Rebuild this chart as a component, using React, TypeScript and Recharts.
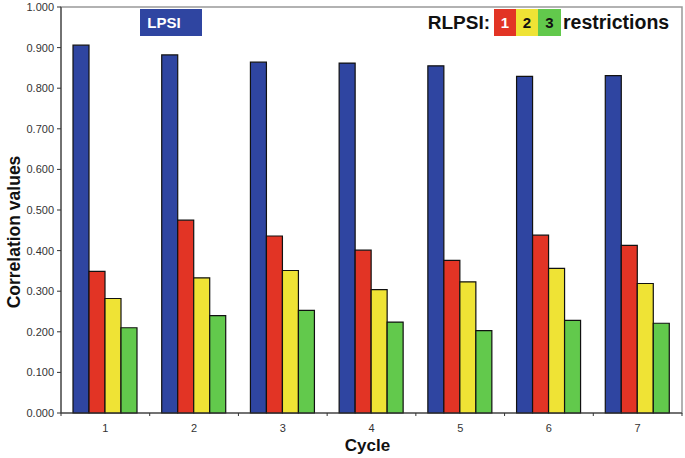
import { Bar, BarChart, ReferenceArea, XAxis, YAxis } from 'recharts';

const cycles = ['1', '2', '3', '4', '5', '6', '7'];
const lpsi = [0.906, 0.882, 0.864, 0.862, 0.855, 0.829, 0.831];
const rlpsi1 = [0.349, 0.475, 0.436, 0.401, 0.376, 0.438, 0.413];
const rlpsi2 = [0.282, 0.333, 0.351, 0.304, 0.323, 0.356, 0.319];
const rlpsi3 = [0.21, 0.24, 0.253, 0.224, 0.203, 0.228, 0.221];
const yTicks = [0, 0.1, 0.2, 0.3, 0.4, 0.5, 0.6, 0.7, 0.8, 0.9, 1];

const BLUE = '#2f45a1';
const RED = '#e23425';
const YELLOW = '#efe335';
const GREEN = '#62c94c';
const FONT = '"Liberation Sans", Arial, sans-serif';

const data = cycles.map((cycle, i) => ({
  cycle,
  lpsi: lpsi[i],
  r1: rlpsi1[i],
  r2: rlpsi2[i],
  r3: rlpsi3[i],
}));

const CycleTick = (props: any) => {
  const { x, y, payload, index, visibleTicksCount } = props;
  const half = payload.offset || 0;
  return (
    <g>
      <line x1={x - half} x2={x - half} y1={y} y2={y + 3} stroke="#333" />
      {index === visibleTicksCount - 1 && (
        <line x1={x + half} x2={x + half} y1={y} y2={y + 3} stroke="#333" />
      )}
      <text x={x} y={y + 19} textAnchor="middle" fontSize={11} fill="#333" fontFamily={FONT}>
        {payload.value}
      </text>
    </g>
  );
};

const YTitle = (props: any) => {
  const { x, y, height } = props.viewBox;
  const cx = x + 20;
  const cy = y + height / 2 + 22;
  return (
    <text
      x={cx}
      y={cy}
      transform={`rotate(-90, ${cx}, ${cy})`}
      textAnchor="middle"
      fontSize={17.5}
      fontWeight="bold"
      fill="#111"
      fontFamily={FONT}
    >
      Correlation values
    </text>
  );
};

const XTitle = (props: any) => {
  const { x, y, width } = props.viewBox;
  return (
    <text
      x={x + width / 2 - 4}
      y={y + 38}
      textAnchor="middle"
      fontSize={17}
      fontWeight="bold"
      fill="#111"
      fontFamily={FONT}
    >
      Cycle
    </text>
  );
};

const boxStyle = (left: number, width: number, bg: string, color: string) => ({
  position: 'absolute' as const,
  left,
  top: 9,
  width,
  height: 27,
  background: bg,
  color,
  display: 'flex',
  alignItems: 'center',
  justifyContent: 'center',
  fontWeight: 'bold' as const,
  fontSize: 15,
});

export default function App() {
  return (
    <div style={{ position: 'relative', width: 685, height: 458, fontFamily: FONT, background: '#fff' }}>
      <style>{'body{margin:0}'}</style>
      <BarChart
        width={685}
        height={458}
        data={data}
        margin={{ top: 7, right: 3, left: 0, bottom: 0 }}
        barCategoryGap={12}
        barGap={0}
      >
        <ReferenceArea y1={0} y2={1} fill="none" stroke="#999" strokeWidth={1.5} />
        <XAxis
          dataKey="cycle"
          height={45}
          tickLine={false}
          tickSize={0}
          tickMargin={0}
          axisLine={{ stroke: '#333' }}
          tick={<CycleTick />}
          interval={0}
          label={<XTitle />}
        />
        <YAxis
          width={61}
          domain={[0, 1]}
          ticks={yTicks}
          interval={0}
          tickSize={4}
          tickMargin={3}
          tickFormatter={(v: number) => v.toFixed(3)}
          tick={{ fontSize: 11, fill: '#333', fontFamily: FONT }}
          tickLine={{ stroke: '#333' }}
          axisLine={{ stroke: '#333' }}
          label={<YTitle />}
        />
        <Bar dataKey="lpsi" fill={BLUE} stroke="#111" strokeWidth={1.2} isAnimationActive={false} />
        <Bar dataKey="r1" fill={RED} stroke="#111" strokeWidth={1.2} isAnimationActive={false} />
        <Bar dataKey="r2" fill={YELLOW} stroke="#111" strokeWidth={1.2} isAnimationActive={false} />
        <Bar dataKey="r3" fill={GREEN} stroke="#111" strokeWidth={1.2} isAnimationActive={false} />
      </BarChart>
      <div style={boxStyle(140, 62, BLUE, '#fff')}>
        <span style={{ marginRight: 14 }}>LPSI</span>
      </div>
      <div
        style={{
          position: 'absolute',
          left: 400,
          width: 90,
          top: 9,
          height: 27,
          display: 'flex',
          alignItems: 'center',
          justifyContent: 'flex-end',
          fontWeight: 'bold',
          fontSize: 19,
          color: '#111',
        }}
      >
        RLPSI:
      </div>
      <div style={boxStyle(494, 22, RED, '#fff')}>1</div>
      <div style={boxStyle(516, 22, YELLOW, '#111')}>2</div>
      <div style={boxStyle(538, 23, GREEN, '#111')}>3</div>
      <div
        style={{
          position: 'absolute',
          left: 563,
          top: 9,
          height: 27,
          display: 'flex',
          alignItems: 'center',
          fontWeight: 'bold',
          fontSize: 19.5,
          color: '#111',
        }}
      >
        restrictions
      </div>
    </div>
  );
}
